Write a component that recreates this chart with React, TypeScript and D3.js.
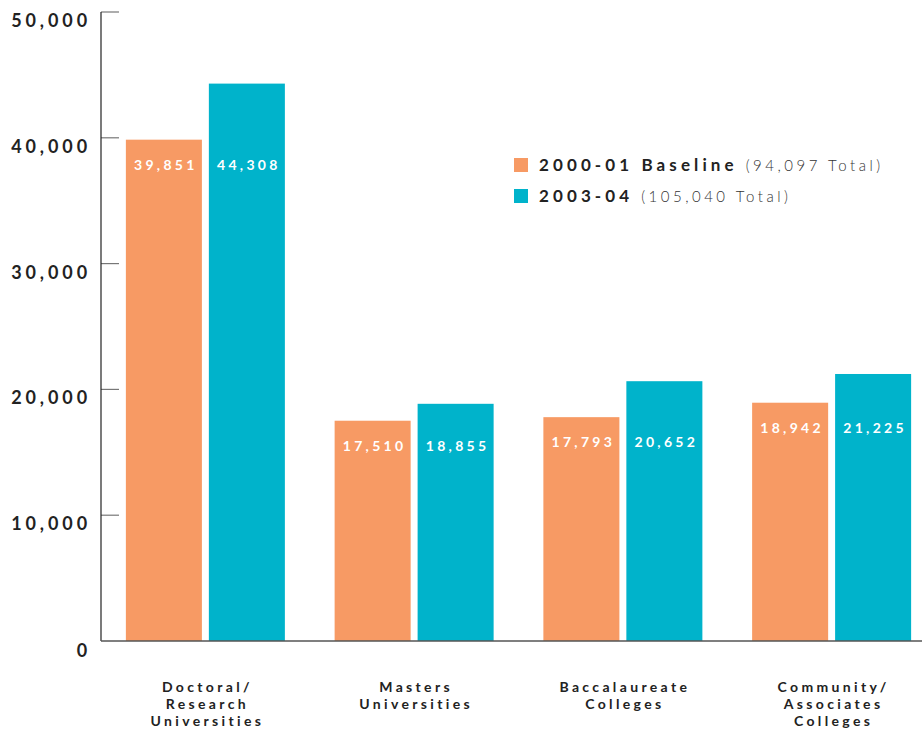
import React from "react";
import * as d3 from "d3";

const categories = [
  ["Doctoral/", "Research", "Universities"],
  ["Masters", "Universities"],
  ["Baccalaureate", "Colleges"],
  ["Community/", "Associates", "Colleges"],
];
const series = ["2000-01", "2003-04"];
const values2000 = [39851, 17510, 17793, 18942];
const values2003 = [44308, 18855, 20652, 21225];
const yTicks = [0, 10000, 20000, 30000, 40000, 50000];
const legendBold = ["2000-01 Baseline", "2003-04"];
const legendLight = ["(94,097 Total)", "(105,040 Total)"];
const colors = ["#F79A64", "#00B3CB"];

export default function App() {
  const W = 922, H = 730;
  const left = 101, bottom = 641, top = 12;
  const y = d3.scaleLinear().domain([0, 50000]).range([bottom, top]);
  const keys = categories.map((c, i) => String(i));
  const x0 = d3.scaleBand().domain(keys).range([left, 936]).padding(0);
  const x1 = d3.scaleBand().domain(series).range([0, 159]).paddingInner(0.084);
  const data = [values2000, values2003];
  const font = "Lato, 'DejaVu Sans', sans-serif";
  const fmt = d3.format(",");

  return (
    <svg width={W} height={H} style={{ position: "absolute", left: 0, top: 0, background: "#fff" }} fontFamily={font}>
      {/* y ticks */}
      {yTicks.map((t) => (
        <g key={t}>
          {t > 0 && <line x1={left} x2={left + 18} y1={y(t)} y2={y(t)} stroke="#777" strokeWidth={1.2} />}
          <text x={91} y={y(t) + (t === 0 ? 16 : 15)} textAnchor="end" fontSize={18} fontWeight={700} letterSpacing={3.9} fill="#222">
            {fmt(t)}
          </text>
        </g>
      ))}
      {/* bars */}
      {keys.map((k, i) => {
        const cx = (x0(k) as number) + x0.bandwidth() / 2;
        const labelY = y(data[0][i]) + 30;
        return (
          <g key={k} transform={`translate(${cx - 79.5},0)`}>
            {series.map((s, j) => {
              const v = data[j][i];
              const bx = x1(s) as number;
              return (
                <g key={s}>
                  <rect x={bx} y={y(v)} width={x1.bandwidth()} height={bottom - y(v)} fill={colors[j]} />
                  <text x={bx + x1.bandwidth() / 2 + 2} y={labelY} textAnchor="middle" fontSize={14} fontWeight={700} letterSpacing={3.3} fill="#fff">
                    {fmt(v)}
                  </text>
                </g>
              );
            })}
          </g>
        );
      })}
      {/* axes */}
      <line x1={left} x2={left} y1={top} y2={bottom} stroke="#222" strokeWidth={1.2} />
      <line x1={left} x2={W} y1={bottom} y2={bottom} stroke="#555" strokeWidth={1.5} />
      {/* category labels */}
      {keys.map((k, i) => {
        const cx = (x0(k) as number) + x0.bandwidth() / 2;
        return (
          <text key={k} textAnchor="middle" fontSize={14} fontWeight={700} letterSpacing={3.35} fill="#222">
            {categories[i].map((line, li) => (
              <tspan key={li} x={cx + 2} y={692 + li * 17}>{line}</tspan>
            ))}
          </text>
        );
      })}
      {/* legend */}
      {series.map((s, j) => (
        <g key={s} transform={`translate(514,${158 + j * 31})`}>
          <rect x={0} y={0} width={14} height={14} fill={colors[j]} />
          <text x={25} y={13} fontSize={17} fill="#222">
            <tspan fontWeight={700} letterSpacing={4.1}>{legendBold[j]}</tspan>
            <tspan fontWeight={300} fontSize={15} letterSpacing={3.5} fill="#333" dx={8}>{legendLight[j]}</tspan>
          </text>
        </g>
      ))}
    </svg>
  );
}
